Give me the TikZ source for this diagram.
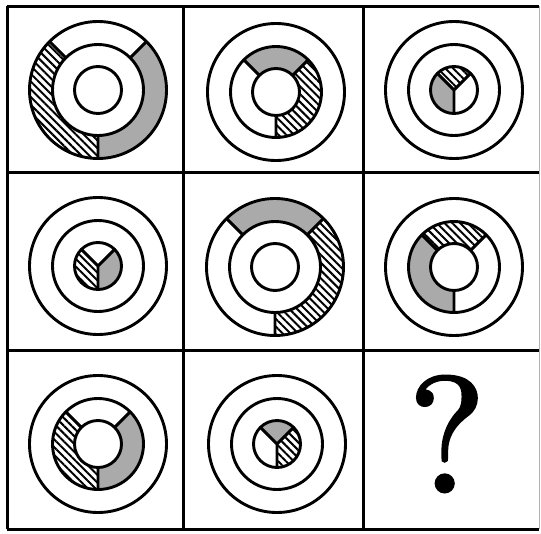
\documentclass[tikz,border=0pt]{standalone}
\usepackage{fontspec}
\newfontfamily\qfont[FakeBold=1.6]{lmroman10-regular.otf}
\usetikzlibrary{patterns.meta}
\definecolor{gfill}{RGB}{170,170,170}
\tikzset{
  sg/.style={fill=gfill},
  sh/.style={fill=white,pattern={Lines[angle=-45,distance=5.5pt,line width=2pt]}},
  sw/.style={fill=white},
  ringline/.style={line width=2.9pt,draw=black},
  gridline/.style={line width=3pt,draw=black},
}
% #1 cx, #2 cy, #3 r1, #4 r2, #5 top, #6 left, #7 right
\newcommand{\targetfig}[7]{%
\begin{scope}[shift={(#1,-#2)}]
  \path[#5] (45:#4) arc[start angle=45,end angle=135,radius=#4] -- (135:#3) arc[start angle=135,end angle=45,radius=#3] -- cycle;
  \path[#6] (135:#4) arc[start angle=135,end angle=270,radius=#4] -- (270:#3) arc[start angle=270,end angle=135,radius=#3] -- cycle;
  \path[#7] (270:#4) arc[start angle=270,end angle=405,radius=#4] -- (405:#3) arc[start angle=405,end angle=270,radius=#3] -- cycle;
  \draw[ringline] (0,0) circle[radius=68.5];
  \draw[ringline] (0,0) circle[radius=45.5];
  \draw[ringline] (0,0) circle[radius=23.5];
  \draw[ringline] (45:#3) -- (45:#4) (135:#3) -- (135:#4) (270:#3) -- (270:#4);
\end{scope}}
\begin{document}
\begin{tikzpicture}[x=1pt,y=1pt]
\useasboundingbox (0,0) rectangle (541,-533);
\fill[white] (0,0) rectangle (541,-533);
% grid
\draw[gridline] (7,-6) -- (539,-6);
\draw[gridline] (7,-172) -- (539,-172);
\draw[gridline] (7,-350) -- (539,-350);
\draw[gridline] (7,-529) -- (539,-529);
\draw[gridline] (7,-6) -- (7,-529);
\draw[gridline] (183,-6) -- (183,-529);
\draw[gridline] (363,-6) -- (363,-529);
\draw[line width=1pt,draw=black!30] (539,-6) -- (539,-529);
% figures
\targetfig{98}{90}{45.5}{68.5}{sw}{sh}{sg}
\targetfig{276}{92}{23.5}{45.5}{sg}{sw}{sh}
\targetfig{454}{90}{0.01}{23.5}{sh}{sg}{sw}
\targetfig{98}{266}{0.01}{23.5}{sw}{sh}{sg}
\targetfig{275}{267}{45.5}{68.5}{sg}{sw}{sh}
\targetfig{454}{267}{23.5}{45.5}{sh}{sg}{sw}
\targetfig{98}{444}{23.5}{45.5}{sw}{sh}{sg}
\targetfig{277}{444}{0.01}{23.5}{sg}{sw}{sh}
\node (q) at (447,-434) {\qfont\fontsize{165}{165}\selectfont ?};
\end{tikzpicture}
\end{document}
